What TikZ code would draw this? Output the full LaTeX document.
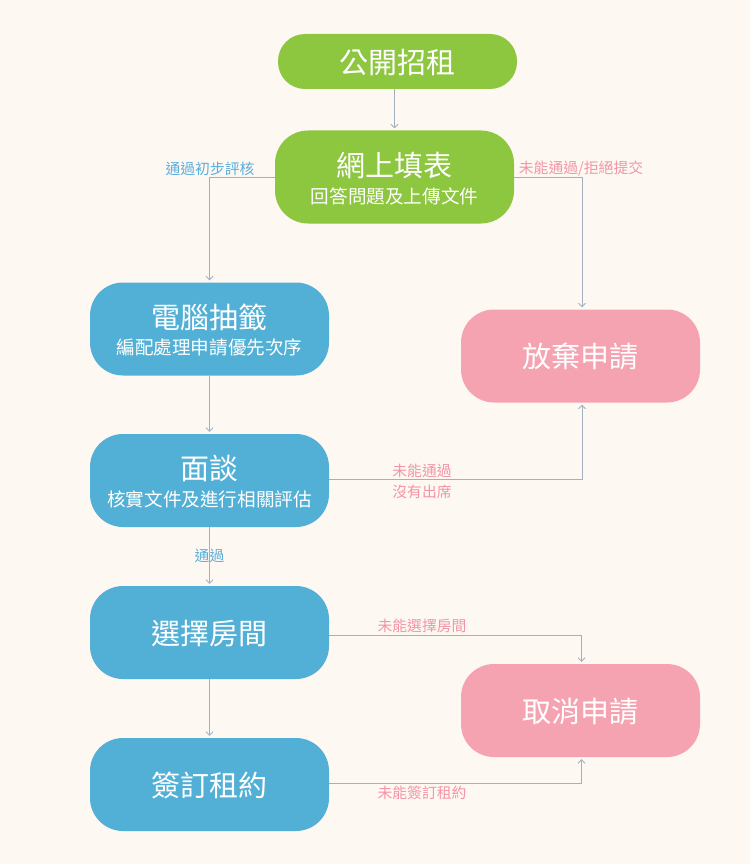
\documentclass[tikz,border=0pt]{standalone}
\usepackage{fontspec}
\setmainfont{Noto Sans CJK TC}
\usetikzlibrary{arrows.meta}
\definecolor{bg}{HTML}{FEF8F3}
\definecolor{gr}{HTML}{8DC63F}
\definecolor{bl}{HTML}{52B0D6}
\definecolor{pk}{HTML}{F5A3B1}
\definecolor{ln}{HTML}{A2B1C0}
\definecolor{lb}{HTML}{5AAEDB}
\definecolor{lp}{HTML}{F295A6}
\begin{document}
\begin{tikzpicture}[x=1pt,y=-1pt,
  box/.style={rounded corners=33pt, minimum width=239pt, minimum height=93pt, inner sep=0pt},
  gbox/.style={box, fill=gr},
  bbox/.style={box, fill=bl},
  pbox/.style={box, fill=pk},
  ttl/.style={text=white, inner sep=0pt, font=\fontsize{29}{30}\selectfont},
  sub/.style={text=white, inner sep=0pt, font=\fontsize{18.6}{20}\selectfont},
  conn/.style={draw=ln, line width=0.8pt, shorten >=2pt, -{Straight Barb[length=3.5pt,width=7pt]}},
  lbl/.style={inner sep=0pt, font=\fontsize{14.8}{21}\selectfont, align=center},
  lblb/.style={lbl, text=lb},
  lblp/.style={lbl, text=lp}
]
\fill[bg] (0,0) rectangle (750,864);
\useasboundingbox (0,0) rectangle (750,864);

% boxes
\node[gbox, minimum height=55pt, rounded corners=27pt] (a) at (397.5,61.5) {};
\node[ttl] (at) at (397.5,63) {公開招租};

\node[gbox] (b) at (394.5,177) {};
\node[ttl] (bt) at (394.5,165) {網上填表};
\node[sub] (bs) at (394.5,196.5) {回答問題及上傳文件};

\node[bbox] (c) at (209.5,329) {};
\node[ttl] (ct) at (209.5,317) {電腦抽籤};
\node[sub] (cs) at (209.5,347.5) {編配處理申請優先次序};

\node[pbox] (d) at (580.5,356) {};
\node[ttl] (dt) at (580.5,357) {放棄申請};

\node[bbox] (e) at (209.5,480.5) {};
\node[ttl] (et) at (209.5,468.5) {面談};
\node[sub] (es) at (209.5,499) {核實文件及進行相關評估};

\node[bbox] (f) at (209.5,632.5) {};
\node[ttl] (ft) at (209.5,633.5) {選擇房間};

\node[pbox] (g) at (580.5,710.5) {};
\node[ttl] (gt) at (580.5,711.5) {取消申請};

\node[bbox] (h) at (209.5,784.5) {};
\node[ttl] (ht) at (209.5,785.5) {簽訂租約};

% connectors
\draw[conn] (a.south -| b.north) -- (b.north);
\draw[conn] (b.west) -| (c.north);
\draw[conn] (b.east) -| ([xshift=1.5pt]d.north);
\draw[conn] (c.south) -- (e.north);
\draw[conn] ([yshift=1pt]e.east) -| ([xshift=1.5pt]d.south);
\draw[conn] (e.south) -- (f.north);
\draw[conn] ([yshift=-2.5pt]f.east) -| ([xshift=1pt]g.north);
\draw[conn] (f.south) -- (h.north);
\draw[conn] ([yshift=1.5pt]h.east) -| ([xshift=1pt]g.south);

% labels
\node[lblb] (l1) at (210,168.5) {通過初步評核};
\node[lblp] (l2) at (581,168.5) {未能通過/拒絕提交};
\node[lblp] (l3) at (422,481) {未能通過\\沒有出席};
\node[lblb] (l4) at (209.5,555.5) {通過};
\node[lblp] (l5) at (422,626) {未能選擇房間};
\node[lblp] (l6) at (422,792.5) {未能簽訂租約};
\end{tikzpicture}
\end{document}
